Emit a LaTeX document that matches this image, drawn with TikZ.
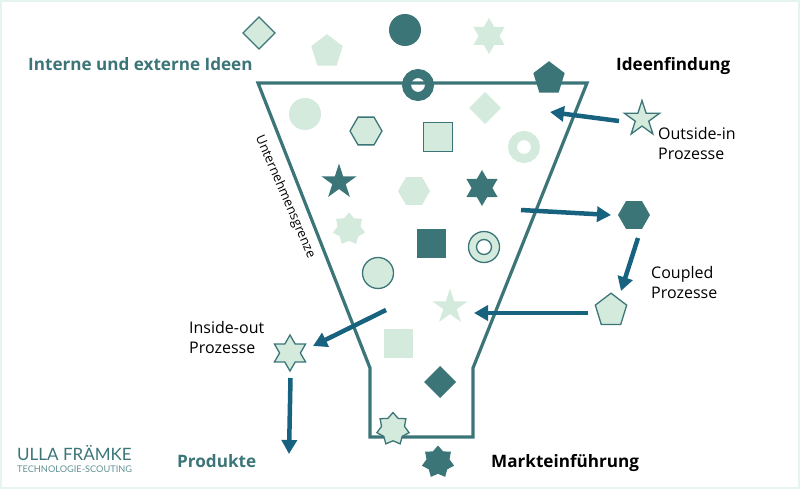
\documentclass[tikz,border=0pt]{standalone}
\usepackage{fontspec}
\setmainfont{Open Sans}
\newfontfamily\logofont{Lato}
\usetikzlibrary{shapes.geometric, arrows.meta}
\definecolor{ideadark}{HTML}{3C7578}
\definecolor{idealight}{HTML}{D3EADC}
\definecolor{flowblue}{HTML}{17627F}
\definecolor{frameline}{HTML}{E3F5EC}
\tikzset{
  lightshape/.style={fill=idealight, draw=none, inner sep=0pt, outer sep=0pt},
  darkshape/.style={fill=ideadark, draw=none, inner sep=0pt, outer sep=0pt},
  lineshape/.style={fill=idealight, draw=ideadark, line width=1.3pt, inner sep=0pt, outer sep=0pt},
  pent/.style={regular polygon, regular polygon sides=5, minimum size=33pt, yscale=1.05, transform shape},
  hexa/.style={regular polygon, regular polygon sides=6, minimum size=32pt},
  disc/.style={circle, minimum size=32pt},
  quad/.style={rectangle, minimum size=29pt},
  rhomb/.style={diamond, minimum size=32pt},
  starfive/.style={star, star points=5, star point ratio=2.618, minimum size=37pt},
  starsix/.style={star, star points=6, star point ratio=1.732, minimum size=36pt},
  starseven/.style={star, star points=7, star point ratio=1.4, minimum size=33pt},
  flowarrow/.style={draw=flowblue, line width=4.5pt, -{Triangle[length=14pt, width=15pt]}},
  tealhead/.style={anchor=base west, font=\fontsize{17.1}{17}\selectfont\bfseries, text=ideadark, inner sep=0pt},
  blackhead/.style={anchor=base west, font=\fontsize{17.1}{17}\selectfont\bfseries, text=black, inner sep=0pt},
  bodytext/.style={anchor=north west, align=left, font=\fontsize{16}{20.5}\selectfont, inner sep=0pt}
}
\begin{document}
\begin{tikzpicture}
      \newcommand\X{1pt}
      \newcommand\Y{-1pt}
      \useasboundingbox (0*\X,0*\Y) rectangle (800*\X,489*\Y);
      \draw[frameline, line width=4pt] (0*\X,0*\Y) rectangle (800*\X,489*\Y);
      % funnel
      \coordinate (funnelA) at (258*\X,83*\Y);
      \coordinate (funnelB) at (587*\X,83*\Y);
      \coordinate (funnelC) at (473*\X,368*\Y);
      \coordinate (funnelD) at (473*\X,437*\Y);
      \coordinate (funnelE) at (370*\X,437*\Y);
      \coordinate (funnelF) at (370*\X,368*\Y);
      \draw[ideadark, line width=3.2pt] (funnelA) -- (funnelB) -- (funnelC) -- (funnelD) -- (funnelE) -- (funnelF) -- cycle;
      % ideas
      \node[lineshape, rhomb] (ideaA) at (259*\X,33*\Y) {};
      \node[lightshape, pent] (ideaB) at (327*\X,51.5*\Y) {};
      \node[darkshape, disc] (ideaC) at (405*\X,30*\Y) {};
      \node[lightshape, starsix] (ideaD) at (489*\X,36*\Y) {};
      \node[darkshape, pent] (ideaE) at (549*\X,78.5*\Y) {};
      \node[draw=ideadark, line width=9pt, circle, minimum size=23pt, inner sep=0pt, outer sep=0pt] (ideaF) at (418*\X,85*\Y) {};
      \node[lightshape, disc] (ideaG) at (305*\X,114*\Y) {};
      \node[lineshape, hexa] (ideaH) at (366*\X,131*\Y) {};
      \node[lineshape, quad] (ideaI) at (438*\X,137*\Y) {};
      \node[lightshape, rhomb] (ideaJ) at (485*\X,108*\Y) {};
      \node[draw=idealight, line width=9pt, circle, minimum size=23pt, inner sep=0pt, outer sep=0pt] (ideaK) at (524*\X,147*\Y) {};
      \node[darkshape, starfive] (ideaL) at (339*\X,182*\Y) {};
      \node[lightshape, hexa] (ideaM) at (414*\X,191*\Y) {};
      \node[darkshape, starsix] (ideaN) at (482*\X,188*\Y) {};
      \node[lightshape, starseven] (ideaO) at (349*\X,229*\Y) {};
      \node[darkshape, quad] (ideaP) at (431*\X,243*\Y) {};
      \node[lineshape, circle, minimum size=31pt] (ideaQ) at (484*\X,247*\Y) {};
      \node[fill=white, draw=ideadark, line width=1.3pt, circle, minimum size=15pt, inner sep=0pt] (ideaQhole) at (484*\X,247*\Y) {};
      \node[lineshape, circle, minimum size=31pt] (ideaR) at (378*\X,273*\Y) {};
      \node[lightshape, starfive] (ideaS) at (450*\X,307*\Y) {};
      \node[lightshape, quad] (ideaT) at (398*\X,343.5*\Y) {};
      \node[darkshape, rhomb] (ideaU) at (440*\X,382*\Y) {};
      \node[lineshape, starseven] (ideaV) at (393*\X,429*\Y) {};
      \node[darkshape, starseven] (ideaW) at (438*\X,462*\Y) {};
      % outside
      \node[lineshape, starfive] (outsideStar) at (642*\X,119*\Y) {};
      \node[darkshape, hexa] (coupledHex) at (634*\X,215*\Y) {};
      \node[lineshape, pent] (coupledPent) at (611*\X,310.5*\Y) {};
      \node[lineshape, starsix] (insideStar) at (290*\X,353*\Y) {};
      % flows
      \coordinate (flowAs) at (619*\X,121*\Y);
      \coordinate (flowAe) at (550*\X,112*\Y);
      \coordinate (flowBs) at (521*\X,210*\Y);
      \coordinate (flowBe) at (611*\X,215*\Y);
      \coordinate (flowCs) at (638*\X,238*\Y);
      \coordinate (flowCe) at (621*\X,291*\Y);
      \coordinate (flowDs) at (588*\X,313*\Y);
      \coordinate (flowDe) at (474*\X,313*\Y);
      \coordinate (flowEs) at (386*\X,310*\Y);
      \coordinate (flowEe) at (313*\X,346*\Y);
      \coordinate (flowFs) at (290.5*\X,378*\Y);
      \coordinate (flowFe) at (289*\X,454*\Y);
      \draw[flowarrow] (flowAs) -- (flowAe);
      \draw[flowarrow] (flowBs) -- (flowBe);
      \draw[flowarrow] (flowCs) -- (flowCe);
      \draw[flowarrow] (flowDs) -- (flowDe);
      \draw[flowarrow] (flowEs) -- (flowEe);
      \draw[flowarrow] (flowFs) -- (flowFe);
      % labels
      \node[tealhead] (labelIdeen) at (28*\X,71*\Y) {Interne und externe Ideen};
      \node[blackhead] (labelFindung) at (616*\X,71*\Y) {Ideenfindung};
      \node[tealhead] (labelProdukte) at (177*\X,467*\Y) {Produkte};
      \node[blackhead] (labelMarkt) at (491*\X,467*\Y) {Markteinführung};
      \node[bodytext] (labelOutside) at (658*\X,127*\Y) {Outside-in\\Prozesse};
      \node[bodytext] (labelCoupled) at (651*\X,266*\Y) {Coupled\\Prozesse};
      \node[bodytext] (labelInside) at (189*\X,321*\Y) {Inside-out\\Prozesse};
      \node[rotate=-66.5, font=\fontsize{13}{13}\selectfont, inner sep=0pt] (labelGrenze) at (285*\X,197*\Y) {Unternehmensgrenze};
      \node[anchor=base west, font=\fontsize{17}{17}\logofont, text=ideadark, inner sep=0pt] (logoName) at (17*\X,460.5*\Y) {ULLA FRÄMKE};
      \node[anchor=base west, font=\fontsize{9.2}{9.2}\logofont, text=ideadark!80, inner sep=0pt] (logoSub) at (17*\X,472*\Y) {TECHNOLOGIE-SCOUTING};
    \end{tikzpicture}
\end{document}
